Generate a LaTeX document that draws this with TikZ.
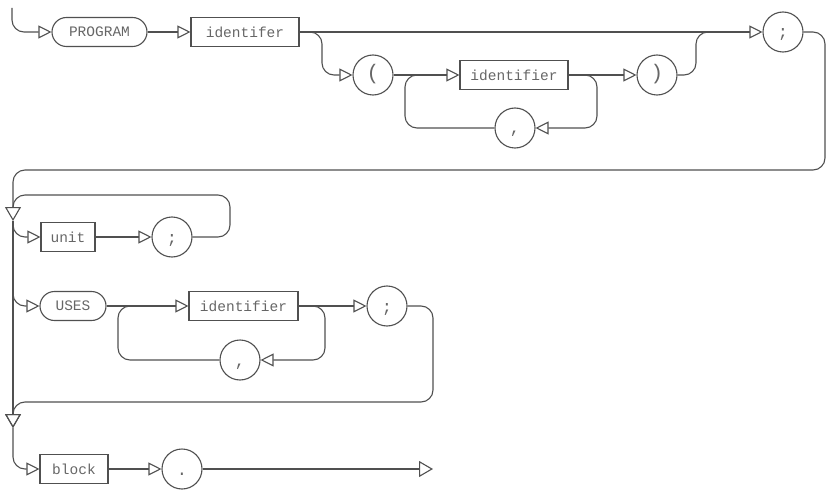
\documentclass[tikz,border=0pt]{standalone}
\usepackage{fontspec}
\setmonofont{Liberation Mono}
\usetikzlibrary{arrows.meta}
\definecolor{ln}{HTML}{505050}
\definecolor{tx}{HTML}{666666}
\tikzset{
  base/.style={draw=ln, line width=1.1pt, inner sep=0pt, text=tx,
    font=\ttfamily\fontsize{14.5}{16}\selectfont},
  term/.style={base, rectangle, rounded corners=14.5pt, minimum height=29pt},
  nterm/.style={base, rectangle, minimum height=29pt},
  punct/.style={base, circle, minimum size=40pt, text height=13pt, text depth=1pt,
    font=\ttfamily\fontsize{17}{18}\selectfont},
  paren/.style={text height=14pt, text depth=4pt, font=\ttfamily\fontsize{21}{22}\selectfont},
  conn/.style={draw=ln, line width=1.1pt, rounded corners=12pt},
  tip/.style={-{Triangle[open, length=13pt, width=13pt]}},
  bigtip/.style={-{Triangle[open, length=14pt, width=16pt]}},
}
\begin{document}
\begin{tikzpicture}[x=1pt, y=-1pt]
\useasboundingbox (0,0) rectangle (827,492);
% row 1
\node[term, minimum width=95pt] (prog) at (99.5,32) {PROGRAM};
\node[nterm, minimum width=108pt] (id0) at (245,32) {identifer};
\node[punct] (semi0) at (783,32) {;};
% row 2
\node[punct, paren] (lp) at (373,75) {(};
\node[nterm, minimum width=108pt] (id1) at (514,75) {identifier};
\node[punct, paren] (rp) at (657,75) {)};
\node[punct] (com1) at (515,128) {,};
% unit
\node[nterm, minimum width=54pt] (unit) at (68,237) {unit};
\node[punct] (semi1) at (172,237) {;};
% uses
\node[term, minimum width=66pt] (uses) at (73,306) {USES};
\node[nterm, minimum width=109pt] (id2) at (243.5,306) {identifier};
\node[punct] (semi2) at (387,306) {;};
\node[punct] (com2) at (240,360) {,};
% block
\node[nterm, minimum width=68pt] (block) at (74,469) {block};
\node[punct] (dot) at (182,469) {.};
% coordinates
\coordinate (s0) at (12,8);
\coordinate (v1) at (13,221);
\coordinate (v2) at (13,428);
\coordinate (fin) at (433,469);
% connectors row 1-2
\draw[conn, tip] (s0) |- (prog.west);
\draw[conn, tip] (prog) -- (id0);
\draw[conn, tip] (id0) -- (semi0);
\draw[conn, tip] (id0.east) -- (322,32) -- (322,75) -- (lp.west);
\draw[conn, tip] (lp) -- (id1);
\draw[conn, tip] (id1) -- (rp);
\draw[conn, tip] (id1.east) -- (597,75) -- (597,128) -- (com1.east);
\draw[conn] (com1.west) -- (405,128) -- (405,75) -- (425,75);
\draw[conn] (rp.east) -- (696,75) -- (696,32) -- (715,32);
\draw[conn, bigtip] (semi0.east) -- (825,32) -- (825,170) -- (13,170) -- (v1);
% unit loop
\draw[conn] (semi1.east) -- (230,237) -- (230,195) -- (13,195) -- (13,207);
\draw[conn, tip] (v1) |- (unit.west);
\draw[conn, tip] (unit) -- (semi1);
% uses
\draw[conn, tip] (v1) |- (uses.west);
\draw[conn, bigtip] (v1) -- (v2);
\draw[conn, tip] (uses) -- (id2);
\draw[conn, tip] (id2) -- (semi2);
\draw[conn, tip] (id2.east) -- (325,306) -- (325,360) -- (com2.east);
\draw[conn] (com2.west) -- (118,360) -- (118,306) -- (135,306);
\draw[conn, bigtip] (semi2.east) -- (433,306) -- (433,402) -- (13,402) -- (v2);
% block
\draw[conn, tip] (v2) |- (block.west);
\draw[conn, tip] (block) -- (dot);
\draw[conn, bigtip] (dot) -- (fin);
\end{tikzpicture}
\end{document}
